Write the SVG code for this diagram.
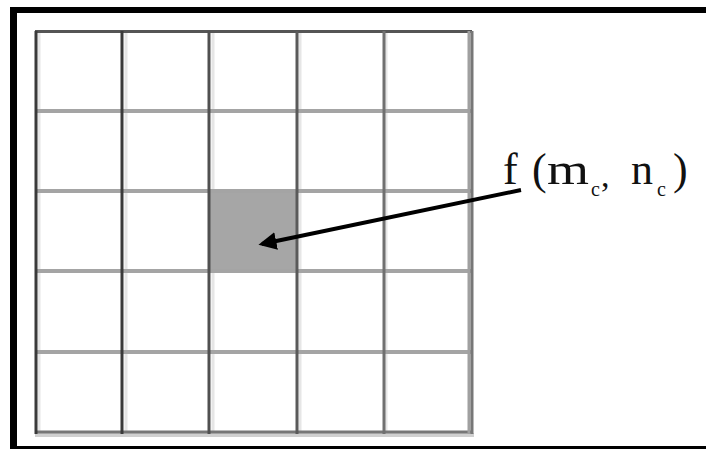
<svg xmlns="http://www.w3.org/2000/svg" width="706" height="449" viewBox="0 0 706 449">
<style>
.v{stroke:#3a3a3a;stroke-width:3}
.vs{stroke:#e6e6e6;stroke-width:3}
.h{stroke:#a4a4a4;stroke-width:4}
.t{font-family:"Liberation Serif","Times New Roman",serif;fill:#111}
</style>
<defs>
<marker id="ah" viewBox="0 0 10 10" refX="8" refY="5" markerWidth="4.5" markerHeight="4.5" orient="auto-start-reverse" markerUnits="strokeWidth">
<path d="M0,0 L10,5 L0,10 Z" fill="#000"/>
</marker>
</defs>
<rect width="706" height="449" fill="#fff"/>
<g id="frame" fill="#000">
<rect x="10" y="7" width="696" height="6"/>
<rect x="10" y="7" width="7" height="442"/>
<rect x="10" y="446" width="696" height="3"/>
</g>
<g id="grid">
<line class="vs" x1="39" y1="31" x2="39" y2="434"/>
<line class="vs" x1="126" y1="31" x2="126" y2="434"/>
<line class="vs" x1="213" y1="31" x2="213" y2="434"/>
<line class="vs" x1="300" y1="31" x2="300" y2="434"/>
<line class="vs" x1="386" y1="31" x2="386" y2="434"/>
</g>
<g id="cell">
<rect x="209" y="191" width="88" height="80" fill="#a6a6a6"/>
</g>
<g id="gridlines">
<line class="h" x1="35" y1="111" x2="472" y2="111"/>
<line class="h" x1="35" y1="191" x2="472" y2="191"/>
<line class="h" x1="35" y1="271" x2="472" y2="271"/>
<line class="h" x1="35" y1="352" x2="472" y2="352"/>
<line stroke="#555" stroke-width="3" x1="35" y1="31.5" x2="472" y2="31.5"/>
<line stroke="#d0d0d0" stroke-width="4" x1="35" y1="435" x2="474" y2="435"/>
<line stroke="#777" stroke-width="3" x1="35" y1="432" x2="472" y2="432"/>
<line class="v" x1="36" y1="31" x2="36" y2="434"/>
<line class="v" x1="122" y1="31" x2="122" y2="434"/>
<line stroke="#505050" stroke-width="3" x1="209" y1="31" x2="209" y2="434"/>
<line stroke="#5a5a5a" stroke-width="3" x1="297" y1="31" x2="297" y2="434"/>
<line stroke="#707070" stroke-width="3" x1="384" y1="31" x2="384" y2="434"/>
<line stroke="#a0a0a0" stroke-width="3" x1="469" y1="31" x2="469" y2="434"/>
<line stroke="#777" stroke-width="3" x1="472" y1="31" x2="472" y2="434"/>
</g>
<g id="connectors">
<line x1="521" y1="190" x2="262" y2="244" stroke="#000" stroke-width="4" marker-end="url(#ah)"/>
</g>
<g id="label">
<text class="t" font-size="44" y="184"><tspan x="503">f</tspan><tspan x="532">(</tspan><tspan x="547" textLength="42" lengthAdjust="spacingAndGlyphs">m</tspan><tspan x="591" y="196" font-size="20">c</tspan><tspan x="601" y="187" font-size="34">,</tspan><tspan x="631" y="184" font-size="44">n</tspan><tspan x="657" y="196" font-size="20">c</tspan><tspan x="673" y="184" font-size="44">)</tspan></text>
</g>
</svg>
